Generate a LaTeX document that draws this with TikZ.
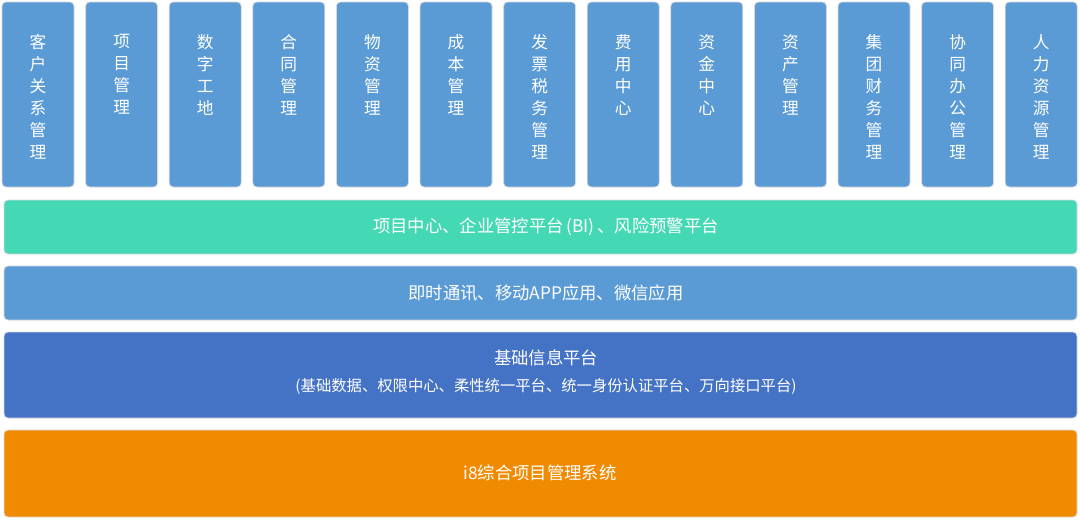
\documentclass[tikz,border=0pt]{standalone}
\usepackage{fontspec}
\setmainfont{Noto Sans CJK SC}
\usetikzlibrary{positioning}
\definecolor{lblue}{HTML}{5B9BD5}
\definecolor{lgreen}{HTML}{45D8B5}
\definecolor{dblue}{HTML}{4472C4}
\definecolor{orng}{HTML}{F08A00}
\tikzset{
  blk/.style={rounded corners=3pt, draw=white!70!gray, line width=0.6pt},
  coltxt/.style={text=white, font=\fontsize{12.5}{16.5}\selectfont, align=center, anchor=north, inner sep=0pt},
  bartxt/.style={text=white, font=\fontsize{13}{15}\selectfont, align=center}
}
\begin{document}
\begin{tikzpicture}[x=0.75pt, y=-0.75pt]
  \useasboundingbox (0,0) rectangle (1080,521);
  % module columns
  \foreach \t [count=\i from 0] in {{客\\户\\关\\系\\管\\理},{项\\目\\管\\理},{数\\字\\工\\地},{合\\同\\管\\理},{物\\资\\管\\理},{成\\本\\管\\理},{发\\票\\税\\务\\管\\理},{费\\用\\中\\心},{资\\金\\中\\心},{资\\产\\管\\理},{集\\团\\财\\务\\管\\理},{协\\同\\办\\公\\管\\理},{人\\力\\资\\源\\管\\理}}{
    \path[blk, fill=lblue] ({2+83.6*\i},2) rectangle ++(72,185);
    \node[coltxt] (m\i) at ({38+83.6*\i},34) {\t};
  }
  % layers
  \path[blk, fill=lgreen] (4,200) rectangle (1077,254);
  \node[bartxt] (bi) at (546,227) {项目中心、企业管控平台\,(BI)\,、风险预警平台};
  \path[blk, fill=lblue] (4,266) rectangle (1077,320);
  \node[bartxt] (app) at (546,293) {即时通讯、移动APP应用、微信应用};
  \path[blk, fill=dblue] (4,332) rectangle (1077,418);
  \node[bartxt] (base) at (546,358) {基础信息平台};
  \node[bartxt, font=\fontsize{11.5}{13}\selectfont, below=2pt of base] (basesub) {(基础数据、权限中心、柔性统一平台、统一身份认证平台、万向接口平台)};
  \path[blk, fill=orng] (4,430) rectangle (1077,517);
  \node[bartxt] (i8) at (540,473) {i8综合项目管理系统};
\end{tikzpicture}
\end{document}
